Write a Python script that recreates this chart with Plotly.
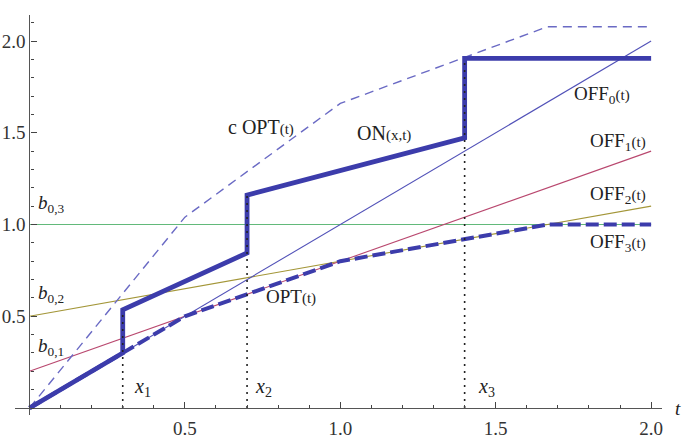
import plotly.graph_objects as go

# ---- data ----
t_ends = [0.0, 2.0]
off0 = [0.0, 2.0]
off1 = [0.2, 1.4]
off2 = [0.5, 1.1]
off3 = [1.0, 1.0]

opt_t = [0.0, 0.5, 1.0, 1.667, 2.0]
opt_y = [0.0, 0.5, 0.8, 1.0, 1.0]
copt_y = [0.0, 1.04, 1.66, 2.078, 2.078]

on_t = [0.0, 0.3, 0.3, 0.7, 0.7, 1.4, 1.4, 2.0]
on_y = [0.0, 0.3, 0.535, 0.845, 1.16, 1.472, 1.905, 1.905]

switch_t = [0.3, 0.7, 1.4]
switch_top = [0.535, 1.16, 1.905]

x_ticks = [0.5, 1.0, 1.5, 2.0]
x_ticktext = ["0.5", "1.0", "1.5", "2.0"]
y_ticks = [0.5, 1.0, 1.5, 2.0]
y_ticktext = ["0.5", "1.0", "1.5", "2.0"]

# ---- styles ----
FONT = "Liberation Serif"
BLUE = "#3c3cab"
THIN_BLUE = "#5252b8"
DASH_BLUE = "#6a6ac4"
RED = "#b9486f"
OLIVE = "#a39638"
GREEN = "#62b97a"

XR = [-0.0466, 2.035]
YR = [-0.038, 2.1417]

fig = go.Figure()

def line(x, y, color, width, dash="solid"):
    fig.add_trace(go.Scatter(x=x, y=y, mode="lines",
                             line=dict(color=color, width=width, dash=dash),
                             hoverinfo="skip", showlegend=False))

line(t_ends, off3, GREEN, 1.1)
line(t_ends, off2, OLIVE, 1.1)
line(t_ends, off1, RED, 1.1)
line(t_ends, off0, THIN_BLUE, 1.1)
line(opt_t, copt_y, DASH_BLUE, 1.4, "9px,6px")
line(opt_t, opt_y, BLUE, 4, "13px,5px")
line(on_t, on_y, BLUE, 4.8)
for st, sy in zip(switch_t, switch_top):
    line([st, st], [0, sy], "#222222", 1.6, "2px,5px")

def ann(text, x, y, size=19, xanchor="left", yanchor="middle", xref="x"):
    fig.add_annotation(x=x, y=y, text=text, showarrow=False, xref=xref,
                       xanchor=xanchor, yanchor=yanchor,
                       font=dict(family=FONT, size=size, color="#222222"))

SUF = '<span style="font-size:15px">(t)</span>'
ann("<i>b</i><sub>0,3</sub>", 0.022, 1.11)
ann("<i>b</i><sub>0,2</sub>", 0.022, 0.62)
ann("<i>b</i><sub>0,1</sub>", 0.022, 0.33)
ann("<i>x</i><sub>1</sub>", 0.33, 0.11, size=20)
ann("<i>x</i><sub>2</sub>", 0.72, 0.11, size=20)
ann("<i>x</i><sub>3</sub>", 1.435, 0.11, size=20)
ann("c OPT" + SUF, 0.632, 1.53, size=20)
ann("ON" + '<span style="font-size:15px">(x,t)</span>', 1.047, 1.50, size=20)
ann("OPT" + SUF, 0.754, 0.61)
ann("OFF<sub>0</sub>" + SUF, 1.744, 1.705)
ann("OFF<sub>1</sub>" + SUF, 1.796, 1.45)
ann("OFF<sub>2</sub>" + SUF, 1.796, 1.16)
ann("OFF<sub>3</sub>" + SUF, 1.796, 0.90)
ann("<i>t</i>", (2.07 - XR[0]) / (XR[1] - XR[0]), 0.0, xref="paper")

minor = dict(tickmode="linear", tick0=0, dtick=0.1, ticks="inside",
             ticklen=3, tickcolor="#444444", tickwidth=1, showgrid=False)

fig.update_layout(
    width=693, height=443,
    margin=dict(l=15, r=31, t=15, b=28, autoexpand=False),
    paper_bgcolor="white", plot_bgcolor="white",
    xaxis=dict(range=XR, tickmode="array", tickvals=x_ticks, ticktext=x_ticktext,
               ticks="inside", ticklen=6, tickcolor="#444444", tickwidth=1,
               showline=True, linecolor="#555555", linewidth=1.3,
               showgrid=False, zeroline=False, automargin=False,
               anchor="free", position=(0 - YR[0]) / (YR[1] - YR[0]),
               ticklabelstandoff=3,
               tickfont=dict(family=FONT, size=19, color="#333333"),
               minor=minor),
    yaxis=dict(range=YR, tickmode="array", tickvals=y_ticks, ticktext=y_ticktext,
               ticks="inside", ticklen=6, tickcolor="#444444", tickwidth=1,
               showline=True, linecolor="#555555", linewidth=1.3,
               showgrid=False, zeroline=False, automargin=False,
               anchor="free", position=(0 - XR[0]) / (XR[1] - XR[0]),
               tickfont=dict(family=FONT, size=19, color="#333333"),
               minor=minor),
)

fig.write_html("out.html")
